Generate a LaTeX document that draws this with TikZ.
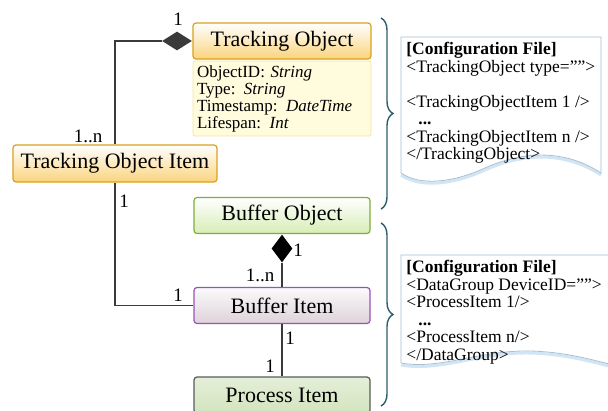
\documentclass[tikz,border=0pt]{standalone}
\usepackage{fontspec}
\setmainfont{Liberation Serif}
\usetikzlibrary{shapes.geometric,decorations.pathreplacing}
\definecolor{trkline}{HTML}{D9A21E}
\definecolor{trkfill}{HTML}{FAD47E}
\definecolor{attrfill}{HTML}{FFFBDD}
\definecolor{attrline}{HTML}{F3E6A6}
\definecolor{bufline}{HTML}{7DAE3A}
\definecolor{buffill}{HTML}{D7EDB6}
\definecolor{itemline}{HTML}{9A52B8}
\definecolor{itemfill}{HTML}{DDD2D9}
\definecolor{procline}{HTML}{5A5A5A}
\definecolor{procfill}{HTML}{D3E4BE}
\definecolor{bracecol}{HTML}{2C5D6C}
\definecolor{docline}{HTML}{A7BFD3}
\definecolor{docshade}{HTML}{D2E5F4}
\definecolor{linkcol}{HTML}{3A3A3A}

\begin{document}
\begin{tikzpicture}[x=1pt, y=-1pt, thick]

\tikzstyle{every node}=[inner sep=0pt]
\tikzstyle{cls}=[rectangle, rounded corners=3pt, line width=1.2pt, minimum width=178pt, minimum height=36pt, font=\fontsize{22}{25}\selectfont]
\tikzstyle{attrbox}=[rectangle, rounded corners=2pt, draw=attrline, fill=attrfill, minimum width=178pt, minimum height=75pt, text width=170pt, inner xsep=4pt, align=left, font=\fontsize{17}{17}\selectfont]
\tikzstyle{dia}=[diamond, draw=none]
\tikzstyle{mult}=[font=\fontsize{19}{22}\selectfont]
\tikzstyle{link}=[draw=linkcol, line width=1.1pt]
\tikzstyle{brc}=[draw=bracecol, line width=1.4pt, decorate, decoration={brace, amplitude=12pt, aspect=0.5}]
\tikzstyle{doc}=[draw=docline, fill=white, line width=0.8pt]
\tikzstyle{docglow}=[draw=docshade, line width=3pt]
\tikzstyle{cfg}=[align=left, anchor=north west, font=\fontsize{17.5}{17.5}\selectfont]

\useasboundingbox (0,0) rectangle (608,410);
\clip (0,0) rectangle (608,410);

% classes
\draw (282,41) node[cls, draw=trkline, top color=white, bottom color=trkfill] (tobj) {Tracking Object};
\draw (282,98.5) node[attrbox] (attr) {ObjectID: \textit{String}\\ Type: \textit{String}\\ Timestamp: \textit{DateTime}\\ Lifespan: \textit{Int}};
\draw (115,163.5) node[cls, minimum width=204pt, minimum height=37pt, draw=trkline, top color=white, bottom color=trkfill] (titem) {Tracking Object Item};
\draw (282,215.5) node[cls, minimum width=176pt, draw=bufline, top color=white, bottom color=buffill] (bobj) {Buffer Object};
\draw (282,305.5) node[cls, minimum width=176pt, draw=itemline, top color=white!90!itemfill, bottom color=itemfill] (bitem) {Buffer Item};
\draw (282,395) node[cls, minimum width=176pt, draw=procline, top color=procfill!60!white, bottom color=procfill] (pitem) {Process Item};

% aggregations
\node[dia, fill=linkcol, minimum width=30pt, minimum height=19pt, anchor=east] (dia1) at (tobj.west) {};
\node[dia, fill=black, minimum width=21pt, minimum height=28pt, anchor=north] (dia2) at (bobj.south) {};

\draw[link] (dia1.west) -| (titem.north);
\draw[link] (titem.south) |- (bitem.west);
\draw[link] (dia2.south) -- (bitem.north);
\draw[link] (bitem.south) -- (pitem.north);

% multiplicities
\draw (178,19) node[mult] (m1) {1}
      (88,136) node[mult] (m2) {1..n}
      (124,201) node[mult] (m3) {1}
      (178,295) node[mult] (m4) {1}
      (298,250) node[mult] (m5) {1}
      (260,275) node[mult] (m6) {1..n}
      (290,338) node[mult] (m7) {1}
      (270,366) node[mult] (m8) {1};

% braces
\draw[brc] (381,18) -- (381,209);
\draw[brc] (381,223) -- (381,406);

% configuration files
\draw[docglow] (601,175) .. controls (566,152) and (525,152) .. (485,170) .. controls (452,185) and (420,188) .. (401,175);
\draw[doc] (401,37) -- (601,37) -- (601,173) .. controls (566,150) and (525,150) .. (485,168) .. controls (452,183) and (420,186) .. (401,173) -- cycle;
\draw (406,42) node[cfg] (cfgA) {\textbf{[Configuration File]}\\ <TrackingObject type=\char34\char34>\\ ~\\ <TrackingObjectItem 1 />\\ \hspace{12pt}\textbf{...}\\ <TrackingObjectItem n />\\ </TrackingObject>};

\draw[docglow] (640,374) .. controls (600,364) and (570,354) .. (530,353) .. controls (480,352) and (440,372) .. (401,365);
\draw[doc] (401,255) -- (660,255) -- (660,380) -- (640,372) .. controls (600,362) and (570,352) .. (530,351) .. controls (480,350) and (440,370) .. (401,363) -- cycle;
\draw (406,260) node[cfg] (cfgB) {\textbf{[Configuration File]}\\ <DataGroup DeviceID=\char34\char34>\\ <ProcessItem 1/>\\ \hspace{12pt}\textbf{...}\\ <ProcessItem n/>\\ </DataGroup>};

\end{tikzpicture}
\end{document}
